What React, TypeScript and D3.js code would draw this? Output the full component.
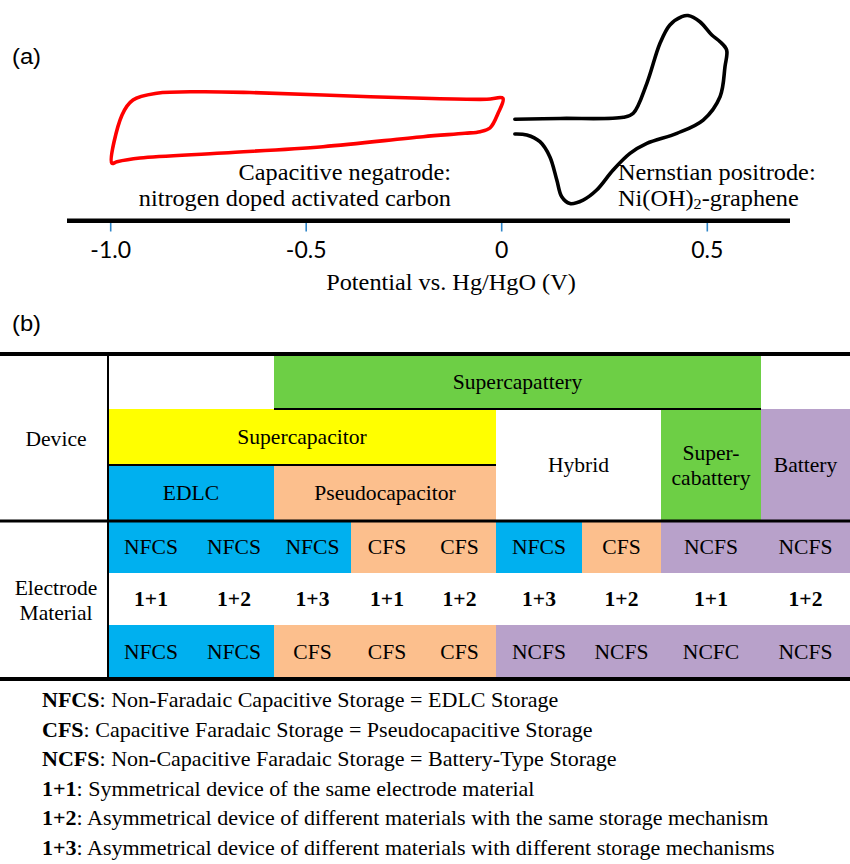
import React from "react";
import * as d3 from "d3";

// ---------- Data: (a) cyclic voltammograms ----------
// Potential (V vs Hg/HgO) and current (arbitrary units)
const negPotential = [0.003, -0.038, -0.201, -0.457, -0.644, -0.772, -0.882, -0.943, -0.971, -0.997, -0.984, -0.925, -0.713, -0.457, -0.201, -0.094, -0.055, -0.03, -0.009];
const negCurrent = [0.167, 0.153, 0.167, 0.214, 0.25, 0.261, 0.239, 0.143, -0.071, -0.761, -0.739, -0.686, -0.614, -0.524, -0.381, -0.333, -0.31, -0.257, -0.043];

const posPotential = [0.032, 0.142, 0.296, 0.32, 0.353, 0.385, 0.409, 0.438, 0.453, 0.482, 0.511, 0.531, 0.547, 0.543, 0.531, 0.49, 0.426, 0.353, 0.312, 0.271, 0.231, 0.198, 0.166, 0.146, 0.134, 0.117, 0.093, 0.061, 0.032];
const posCurrent = [-0.133, -0.121, -0.104, -0.047, 0.381, 0.953, 1.214, 1.333, 1.35, 1.261, 1.071, 0.976, 0.857, 0.619, 0.19, -0.143, -0.333, -0.476, -0.619, -0.857, -1.143, -1.286, -1.336, -1.239, -1.0, -0.667, -0.453, -0.357, -0.343];

const potentialTicks = [-1.0, -0.5, 0, 0.5];
const potentialTickLabels = ["-1.0", "-0.5", "0", "0.5"];

// ---------- Data: (b) classification table ----------
const deviceNames = ["Supercapattery", "Supercapacitor", "EDLC", "Pseudocapacitor", "Hybrid", "Super-|cabattery", "Battery"];
const deviceColStart = [2, 0, 0, 2, 5, 7, 8];
const deviceColEnd = [8, 5, 2, 5, 7, 8, 9];
const deviceLevelStart = [0, 1, 2, 2, 1, 1, 1];
const deviceLevelEnd = [1, 2, 3, 3, 3, 3, 3];
const deviceColors = ["#6dcf45", "#ffff00", "#00b0ef", "#fcbf8d", "#ffffff", "#6dcf45", "#b8a1ca"];

const materialRow1 = ["NFCS", "NFCS", "NFCS", "CFS", "CFS", "NFCS", "CFS", "NCFS", "NCFS"];
const materialRow2 = ["1+1", "1+2", "1+3", "1+1", "1+2", "1+3", "1+2", "1+1", "1+2"];
const materialRow3 = ["NFCS", "NFCS", "CFS", "CFS", "CFS", "NCFS", "NCFS", "NCFC", "NCFS"];

const storageTypes = ["NFCS", "CFS", "NCFS", "NCFC"];
const storageColors = ["#00b0ef", "#fcbf8d", "#b8a1ca", "#b8a1ca"];

const legendKeys = ["NFCS", "CFS", "NCFS", "1+1", "1+2", "1+3"];
const legendDescriptions = [
  ": Non-Faradaic Capacitive Storage = EDLC Storage",
  ": Capacitive Faradaic Storage = Pseudocapacitive Storage",
  ": Non-Capacitive Faradaic Storage = Battery-Type Storage",
  ": Symmetrical device of the same electrode material",
  ": Asymmetrical device of different materials with the same storage mechanism",
  ": Asymmetrical device of different materials with different storage mechanisms",
];

// ---------- Layout ----------
const W = 850;
const H = 864;
const SERIF = "Liberation Serif, serif";
const SANS = "Lato, Liberation Sans, sans-serif";
const SX = 1.08;

const xPot = d3.scaleLinear().domain([-1, 0, 0.5]).range([110.7, 501.7, 707.3]);
const yCur = d3.scaleLinear().domain([-1, 1]).range([180, 40]);

const colX = d3.scaleLinear().domain(d3.range(10)).range([108, 194, 274, 351, 423, 496, 582, 661, 761, 850]);
const levelY = d3.scaleLinear().domain([0, 1, 2, 3]).range([355, 409, 465, 521]);
const matY = d3.scaleLinear().domain([0, 1, 2, 3]).range([521, 573, 625, 679]);
const storageColor = d3.scaleOrdinal<string, string>().domain(storageTypes).range(storageColors);

function T(props: { x: number; y: number; size: number; anchor?: string; bold?: boolean; children: any; family?: string; sx?: number }) {
  const { x, y, size, anchor = "middle", bold = false, children, family = SERIF, sx = SX } = props;
  return (
    <text
      transform={`translate(${x},${y}) scale(${sx},1)`}
      textAnchor={anchor as any}
      style={{ fontFamily: family, fontSize: size + "px", fontWeight: bold ? 700 : 400 }}
      fill="#000"
    >
      {children}
    </text>
  );
}

export default function App() {
  const negPts = negPotential.map((v, i) => [v, negCurrent[i]] as [number, number]);
  const posPts = posPotential.map((v, i) => [v, posCurrent[i]] as [number, number]);
  const closedLine = d3.line<[number, number]>().x((d) => xPot(d[0])).y((d) => yCur(d[1])).curve(d3.curveCatmullRomClosed.alpha(0.5));
  const openLine = d3.line<[number, number]>().x((d) => xPot(d[0])).y((d) => yCur(d[1])).curve(d3.curveCatmullRom.alpha(0.5));

  const matRows = [materialRow1, materialRow2, materialRow3];

  return (
    <svg width={W} height={H} style={{ position: "absolute", left: 0, top: 0, background: "#fff" }}>
      <rect x={0} y={0} width={W} height={H} fill="#fff" />

      {/* ---------- (a) ---------- */}
      <T x={12} y={64} size={22} anchor="start" family="Liberation Sans, sans-serif">(a)</T>

      <path d={closedLine(negPts) || ""} fill="none" stroke="#ff0000" strokeWidth={3.6} strokeLinejoin="round" />
      <path d={openLine(posPts) || ""} fill="none" stroke="#000" strokeWidth={3.6} strokeLinejoin="round" strokeLinecap="round" />

      <T x={451} y={180} size={22.5} anchor="end">Capacitive negatrode:</T>
      <T x={451} y={206} size={22.5} anchor="end">nitrogen doped activated carbon</T>
      <T x={618} y={180} size={22.5} anchor="start">Nernstian positrode:</T>
      <T x={618} y={206} size={22.5} anchor="start">
        Ni(OH)<tspan style={{ fontSize: "15px" }} dy={3}>2</tspan><tspan dy={-3}>-graphene</tspan>
      </T>

      <line x1={67} x2={790} y1={220.7} y2={220.7} stroke="#000" strokeWidth={4.5} />
      {potentialTicks.map((t, i) => (
        <g key={"tk" + i}>
          <line x1={xPot(t)} x2={xPot(t)} y1={223} y2={231.5} stroke="#2f86c9" strokeWidth={1.6} />
          <T x={xPot(t)} y={258} size={23} family={SANS} sx={1.0}>{potentialTickLabels[i]}</T>
        </g>
      ))}
      <T x={451} y={290} size={22.5}>Potential vs. Hg/HgO (V)</T>

      {/* ---------- (b) ---------- */}
      <T x={12} y={331} size={22} anchor="start" family="Liberation Sans, sans-serif">(b)</T>

      <g shapeRendering="crispEdges">
        {deviceNames.map((name, i) => (
          <rect
            key={"dr" + i}
            x={colX(deviceColStart[i])}
            y={levelY(deviceLevelStart[i])}
            width={colX(deviceColEnd[i]) - colX(deviceColStart[i])}
            height={levelY(deviceLevelEnd[i]) - levelY(deviceLevelStart[i])}
            fill={deviceColors[i]}
          />
        ))}
        {matRows.map((row, r) =>
          row.map((c, j) => (
            <rect
              key={"mr" + r + "-" + j}
              x={colX(j)}
              y={matY(r)}
              width={colX(j + 1) - colX(j)}
              height={matY(r + 1) - matY(r)}
              fill={r === 1 ? "#ffffff" : storageColor(c)}
            />
          ))
        )}
      </g>

      {/* table rules */}
      <line x1={0} x2={W} y1={354} y2={354} stroke="#000" strokeWidth={4} />
      <line x1={colX(2)} x2={colX(8)} y1={409} y2={409} stroke="#000" strokeWidth={2} />
      <line x1={colX(0)} x2={colX(5)} y1={465} y2={465} stroke="#000" strokeWidth={2} />
      <line x1={0} x2={W} y1={521} y2={521} stroke="#000" strokeWidth={3} />
      <line x1={0} x2={W} y1={679} y2={679} stroke="#000" strokeWidth={4} />
      <line x1={108} x2={108} y1={354} y2={679} stroke="#000" strokeWidth={2} />

      {/* device labels */}
      {deviceNames.map((name, i) => {
        const cx = (colX(deviceColStart[i]) + colX(deviceColEnd[i])) / 2;
        const cy = (levelY(deviceLevelStart[i]) + levelY(deviceLevelEnd[i])) / 2;
        const parts = name.split("|");
        if (parts.length === 2) {
          return (
            <g key={"dl" + i}>
              <T x={cx} y={cy - 5} size={20}>{parts[0]}</T>
              <T x={cx} y={cy + 20} size={20}>{parts[1]}</T>
            </g>
          );
        }
        return <T key={"dl" + i} x={cx} y={cy + 7} size={20}>{name}</T>;
      })}
      <T x={56} y={446} size={20}>Device</T>
      <T x={56} y={595} size={20}>Electrode</T>
      <T x={56} y={620} size={20}>Material</T>

      {matRows.map((row, r) =>
        row.map((c, j) => (
          <T key={"mt" + r + "-" + j} x={(colX(j) + colX(j + 1)) / 2} y={(matY(r) + matY(r + 1)) / 2 + 7} size={20} bold={r === 1}>
            {c}
          </T>
        ))
      )}

      {/* legend */}
      {legendKeys.map((k, i) => (
        <T key={"lg" + i} x={42} y={707 + i * 29.6} size={20.4} anchor="start">
          <tspan style={{ fontWeight: 700 }}>{k}</tspan>
          <tspan>{legendDescriptions[i]}</tspan>
        </T>
      ))}
    </svg>
  );
}
